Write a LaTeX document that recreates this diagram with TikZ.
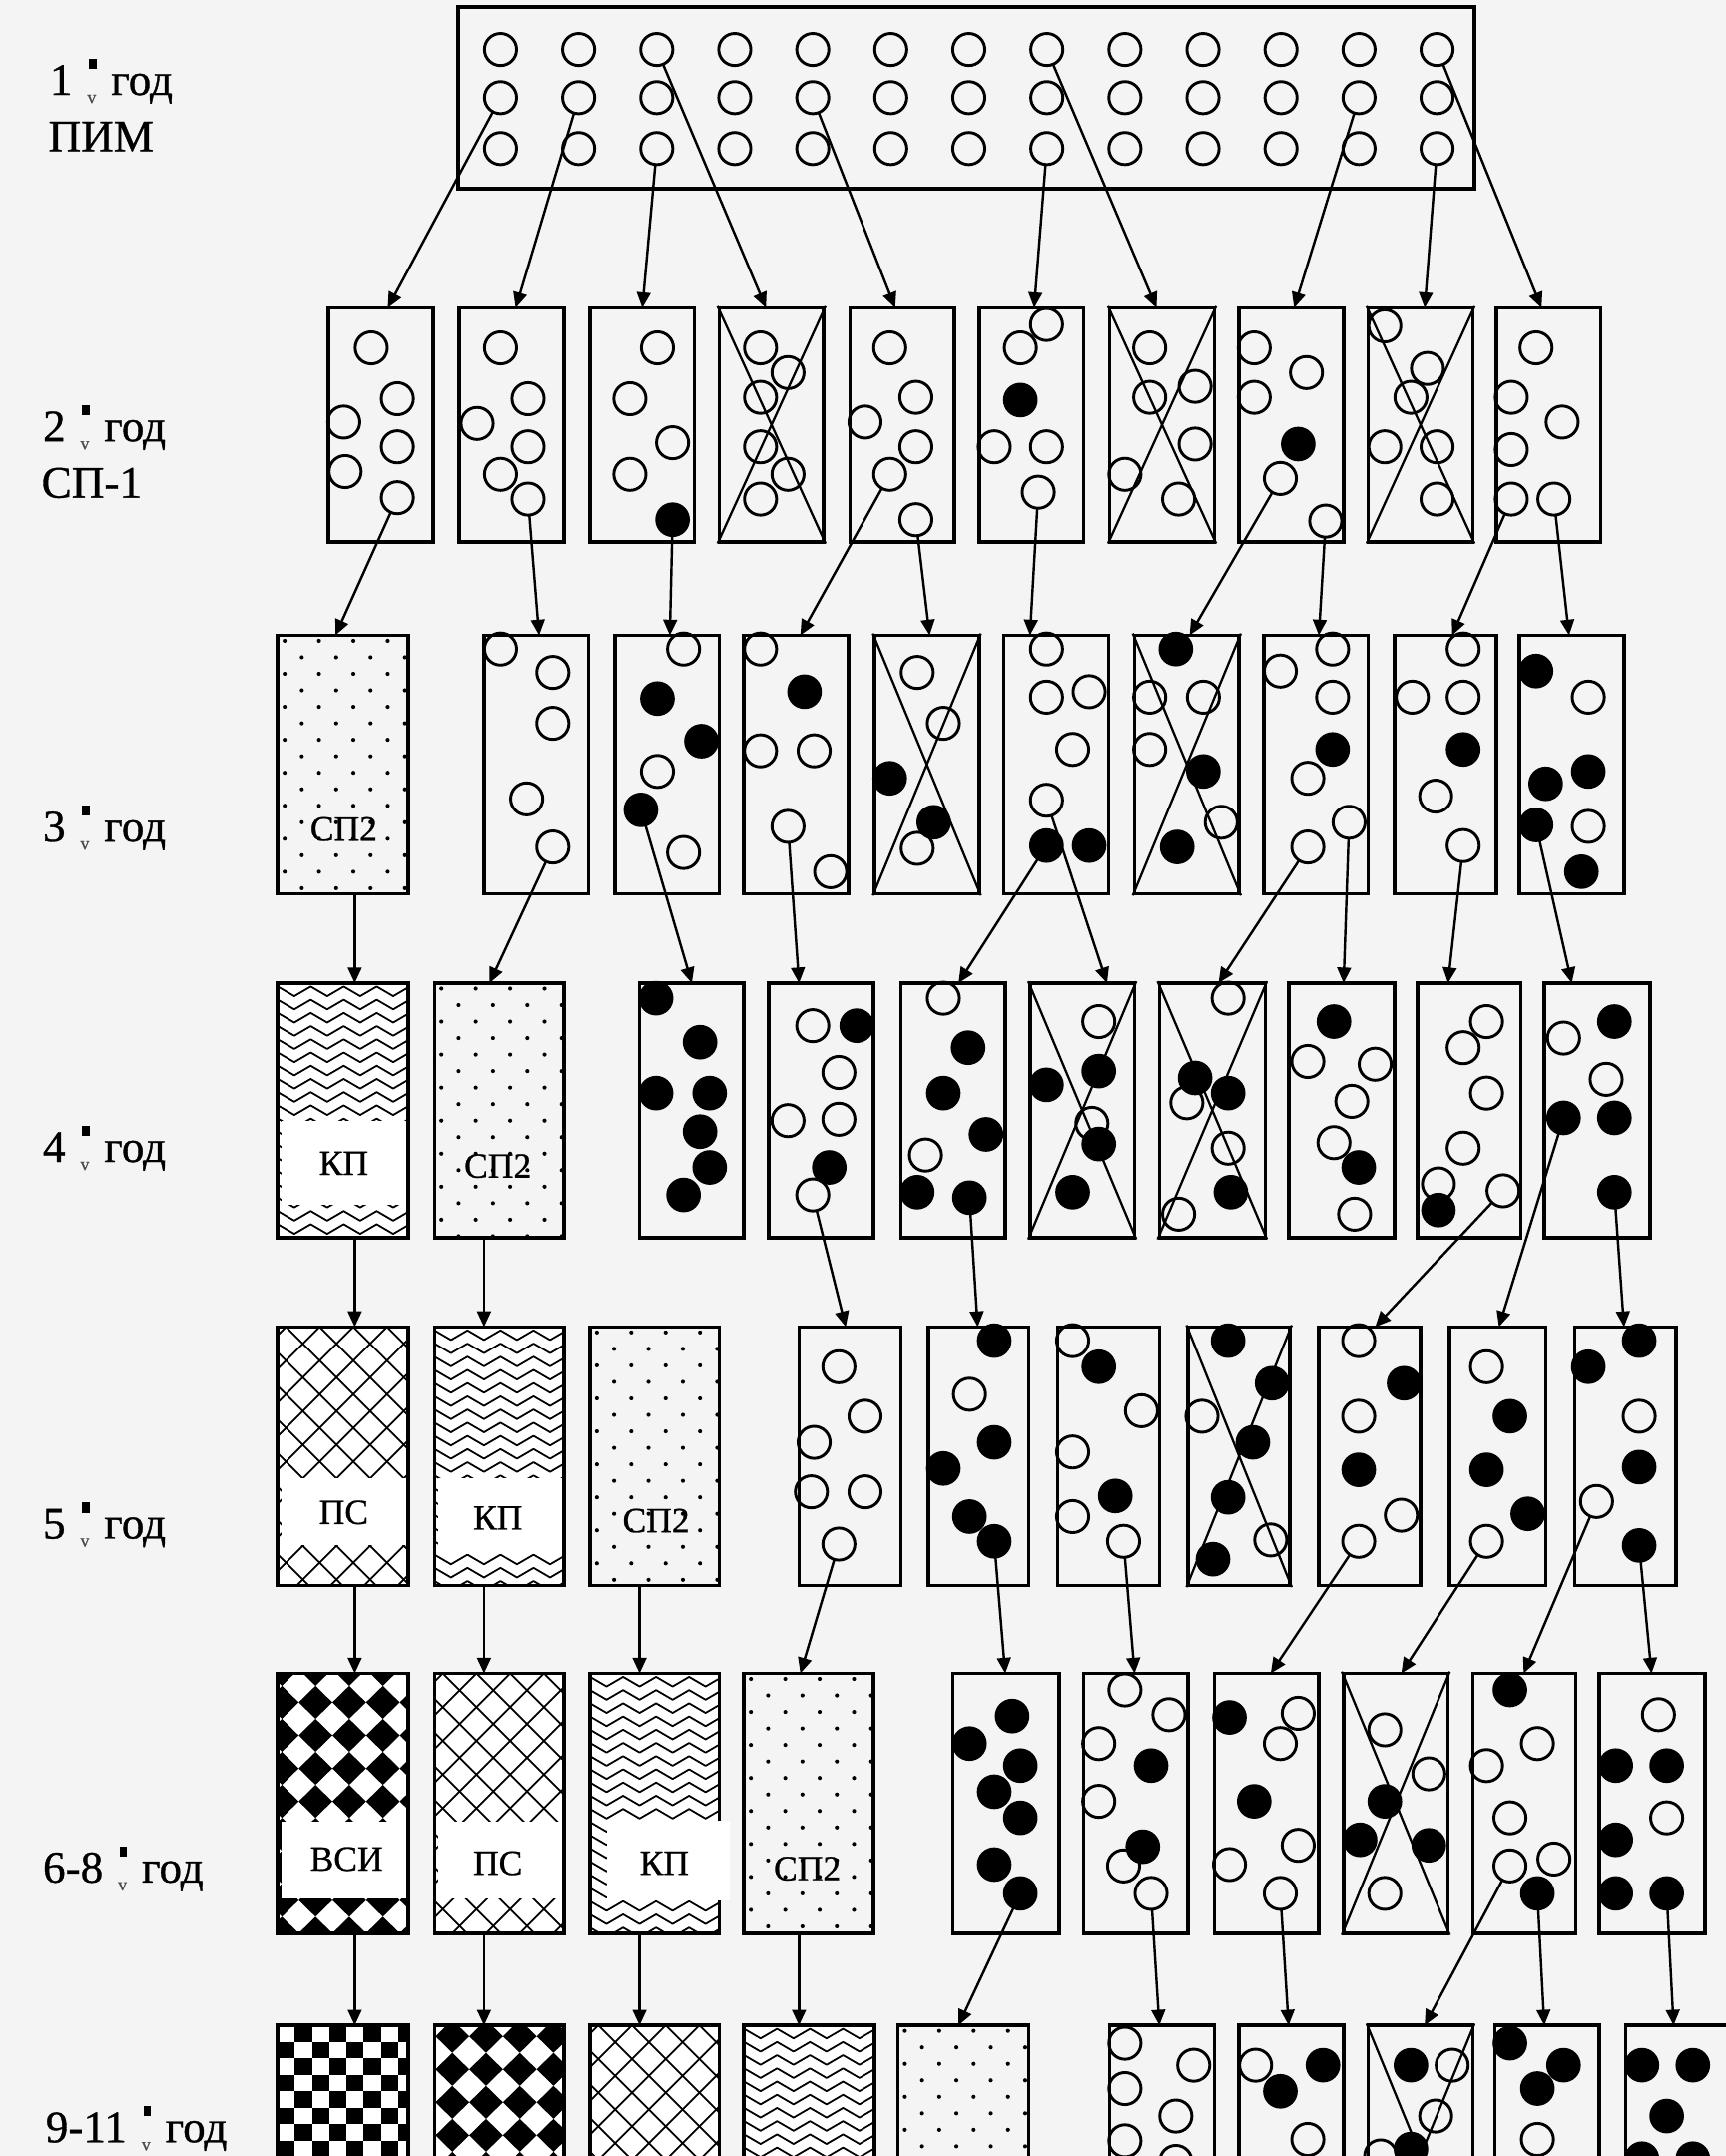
\documentclass[tikz,border=0pt]{standalone}
\usepackage{fontspec}
\setmainfont{Liberation Serif}
\usetikzlibrary{arrows.meta,fit}
\definecolor{bg}{RGB}{244,244,244}
\tikzset{
 oc/.style={circle,draw,line width=1.8pt,minimum size=0.7cm,inner sep=0pt,outer sep=0pt},
 fc/.style={circle,draw,fill=black,line width=1pt,minimum size=0.72cm,inner sep=0pt,outer sep=0pt},
 bxs/.style={draw,line width=2.2pt,inner sep=0pt},
 arr/.style={line width=1.5pt,-{Triangle[length=0.34cm,width=0.3cm]}},
 xl/.style={line width=1.4pt},
 pat/.style={line width=1.1pt},
 rowlab/.style={anchor=base west,inner sep=0pt,font=\fontsize{28}{30}\selectfont\addfontfeatures{FakeBold=0.8}},
 boxlab/.style={inner sep=0pt,font=\fontsize{22}{24}\selectfont\addfontfeatures{FakeBold=0.8}},
}
\newcommand\mk{\hbox to 24pt{\hss\rlap{\hspace{1.2pt}\raisebox{16pt}{\rule{4.5pt}{6.5pt}}}{\fontsize{11}{11}\selectfont\color{black!70}\raisebox{-5pt}{v}}\hss}}
\newcommand\Oc[3]{\node[oc] (#1) at (#2,#3) {};}
\newcommand\Fc[3]{\node[fc] (#1) at (#2,#3) {};}
\newcommand\Bx[5]{\node[bxs,fit={(#2,#3) (#4,#5)}] (#1) {};}
\newcommand\Xx[1]{\draw[xl] (#1.north west) -- (#1.south east) (#1.north east) -- (#1.south west);}
\newcommand\pdots[4]{\begin{scope}\clip (#1,#2) rectangle (#3,#4);
 \foreach \j in {0,...,16}{\foreach \i in {0,...,4}{
 \fill ({#1+5+12.5*mod(\j,2)+25*\i},{#2+4+12*\j}) circle (0.045cm);}}
 \end{scope}}
\newcommand\pwave[4]{\begin{scope}\clip (#1,#2) rectangle (#3,#4);
 \fill[white] (#1,#2) rectangle (#3,#4);
 \foreach \j in {0,...,20}{\draw[pat,line join=round] ({#1-6},{#2+6+9.6*\j}) \foreach \k in {0,...,5}{ -- ++(6,-3.5) -- ++(6,3.5) -- ++(6,3.5) -- ++(6,-3.5)};}
 \end{scope}}
\newcommand\phatch[4]{\begin{scope}\clip (#1,#2) rectangle (#3,#4);
 \fill[white] (#1,#2) rectangle (#3,#4);
 \foreach \k in {-9,...,13}{\draw[pat] ({#1+6+24.5*\k},#2) -- ++(220,220); \draw[pat] ({#1+6+24.5*\k},#2) -- ++(-220,220);}
 \end{scope}}
\newcommand\pdiam[6]{\begin{scope}\clip (#1,#2) rectangle (#3,#4);
 \fill[white] (#1,#2) rectangle (#3,#4);
 \foreach \j in {-1,...,8}{\foreach \i in {-1,...,5}{
 \fill ({#1+#5+24.5*\i},{#2+#6+24*\j}) -- ++(12.25,12) -- ++(-12.25,12) -- ++(-12.25,-12) -- cycle;}}
 \end{scope}}
\newcommand\pcheck[4]{\begin{scope}\clip (#1,#2) rectangle (#3,#4);
 \fill[white] (#1,#2) rectangle (#3,#4);
 \foreach \j in {0,...,15}{\foreach \i in {0,...,7}{
 \ifodd\numexpr\i+\j\relax \fill ({#1+12.5*\i},{#2+12*\j}) rectangle ++(12.5,12);\fi}}
 \end{scope}}
\begin{document}
\begin{tikzpicture}[x=0.03cm,y=-0.03cm]
\path[use as bounding box] (0,0) rectangle (1255,1568);
\clip (0,0) rectangle (1255,1568);
\fill[bg] (0,0) rectangle (1255,1568);
% ---------- patterns
\pdots{202}{462}{297}{650}
\pwave{202}{715}{297}{900}
\pdots{316}{715}{410}{900}
\phatch{202}{965}{297}{1153}
\pwave{316}{965}{410}{1153}
\pdots{429}{965}{523}{1153}
\pdiam{202}{1217}{297}{1406}{3}{9}
\phatch{316}{1217}{410}{1406}
\pwave{429}{1217}{523}{1406}
\pdots{541}{1217}{635}{1406}
\pcheck{202}{1473}{297}{1662}
\pdiam{316}{1473}{410}{1662}{13}{20}
\phatch{429}{1473}{523}{1662}
\pwave{541}{1473}{636}{1662}
\pdots{653}{1473}{748}{1662}
\fill[white] (205,815) rectangle (297,876);
\fill[white] (205,1075) rectangle (297,1124);
\fill[white] (319,1075) rectangle (410,1130);
\fill[white] (205,1325) rectangle (297,1381);
\fill[white] (319,1325) rectangle (410,1381);
% ---------- boxes
\Bx{B1}{333}{5}{1072}{137}
\Bx{B2a}{239}{224}{315}{394}\Bx{B2b}{334}{224}{410}{394}\Bx{B2c}{429}{224}{505}{394}
\Bx{B2d}{523}{224}{599}{394}\Bx{B2e}{618}{224}{694}{394}\Bx{B2f}{712}{224}{788}{394}
\Bx{B2g}{807}{224}{883}{394}\Bx{B2h}{901}{224}{977}{394}\Bx{B2i}{995}{224}{1071}{394}
\Bx{B2j}{1088}{224}{1164}{394}
\Bx{B3a}{202}{462}{297}{650}\Bx{B3b}{352}{462}{428}{650}\Bx{B3c}{447}{462}{523}{650}
\Bx{B3d}{541}{462}{617}{650}\Bx{B3e}{636}{462}{712}{650}\Bx{B3f}{730}{462}{806}{650}
\Bx{B3g}{825}{462}{901}{650}\Bx{B3h}{919}{462}{995}{650}\Bx{B3i}{1014}{462}{1088}{650}
\Bx{B3j}{1105}{462}{1181}{650}
\Bx{B4a}{202}{715}{297}{900}\Bx{B4b}{316}{715}{410}{900}\Bx{B4c}{465}{715}{541}{900}
\Bx{B4d}{559}{715}{635}{900}\Bx{B4e}{655}{715}{731}{900}\Bx{B4f}{749}{715}{825}{900}
\Bx{B4g}{843}{715}{920}{900}\Bx{B4h}{937}{715}{1014}{900}\Bx{B4i}{1031}{715}{1106}{900}
\Bx{B4j}{1123}{715}{1200}{900}
\Bx{B5a}{202}{965}{297}{1153}\Bx{B5b}{316}{965}{410}{1153}\Bx{B5c}{429}{965}{523}{1153}
\Bx{B5d}{581}{965}{655}{1153}\Bx{B5e}{675}{965}{748}{1153}\Bx{B5f}{769}{965}{843}{1153}
\Bx{B5g}{864}{965}{938}{1153}\Bx{B5h}{959}{965}{1033}{1153}\Bx{B5i}{1054}{965}{1124}{1153}
\Bx{B5j}{1145}{965}{1219}{1153}
\Bx{B6a}{202}{1217}{297}{1406}\Bx{B6b}{316}{1217}{410}{1406}\Bx{B6c}{429}{1217}{523}{1406}
\Bx{B6d}{541}{1217}{635}{1406}\Bx{B6e}{693}{1217}{770}{1406}\Bx{B6f}{788}{1217}{864}{1406}
\Bx{B6g}{883}{1217}{959}{1406}\Bx{B6h}{977}{1217}{1053}{1406}\Bx{B6i}{1071}{1217}{1146}{1406}
\Bx{B6j}{1163}{1217}{1240}{1406}
\Bx{B7a}{202}{1473}{297}{1662}\Bx{B7b}{316}{1473}{410}{1662}\Bx{B7c}{429}{1473}{523}{1662}
\Bx{B7d}{541}{1473}{636}{1662}\Bx{B7e}{653}{1473}{748}{1662}\Bx{B7f}{807}{1473}{883}{1662}
\Bx{B7g}{901}{1473}{977}{1662}\Bx{B7h}{995}{1473}{1071}{1662}\Bx{B7i}{1087}{1473}{1163}{1662}
\Bx{B7j}{1182}{1473}{1258}{1662}
\fill[white] (441,1324) rectangle (531,1382);
% ---------- crossed boxes
\Xx{B2d}\Xx{B2g}\Xx{B2i}\Xx{B3e}\Xx{B3g}\Xx{B4f}\Xx{B4g}\Xx{B5g}\Xx{B6h}\Xx{B7h}
% ---------- box labels
\node[boxlab] (T3a) at (250,603) {СП2};
\node[boxlab] (T4a) at (250,846) {КП};
\node[boxlab] (T4b) at (362,848) {СП2};
\node[boxlab] (T5a) at (250,1100) {ПС};
\node[boxlab] (T5b) at (362,1104) {КП};
\node[boxlab] (T5c) at (477,1106) {СП2};
\node[boxlab] (T6a) at (252,1352) {ВСИ};
\node[boxlab] (T6b) at (362,1355) {ПС};
\node[boxlab] (T6c) at (483,1355) {КП};
\node[boxlab] (T6d) at (587,1359) {СП2};
% ---------- row labels
\node[rowlab] (L1) at (36,69) {1\mk год};
\node[rowlab] (L1b) at (35,110) {ПИМ};
\node[rowlab] (L2) at (31,321) {2\mk год};
\node[rowlab] (L2b) at (30,362) {СП-1};
\node[rowlab] (L3) at (31,612) {3\mk год};
\node[rowlab] (L4) at (31,845) {4\mk год};
\node[rowlab] (L5) at (31,1119) {5\mk год};
\node[rowlab] (L6) at (31,1369) {6-8\mk год};
\node[rowlab] (L7) at (33,1558) {9-11\mk год};
% ---------- circles
\foreach \i in {1,...,13}{\foreach \j/\yy in {1/36,2/71,3/108}{\node[oc] (p\i r\j) at ({364+56.75*(\i-1)},\yy) {};}}
\Oc{c2a1}{270}{253}\Oc{c2a2}{289}{290}\Oc{c2a3}{250}{307}\Oc{c2a4}{289}{325}\Oc{c2a5}{251}{343}\Oc{c2a6}{289}{362}
\Oc{c2b1}{364}{253}\Oc{c2b2}{384}{290}\Oc{c2b3}{347}{308}\Oc{c2b4}{384}{325}\Oc{c2b5}{364}{345}\Oc{c2b6}{384}{363}
\Oc{c2c1}{478}{253}\Oc{c2c2}{458}{290}\Oc{c2c3}{489}{322}\Oc{c2c4}{458}{345}\Fc{c2c5}{489}{378}
\Oc{c2d1}{553}{253}\Oc{c2d2}{573}{271}\Oc{c2d3}{553}{289}\Oc{c2d4}{553}{325}\Oc{c2d5}{573}{345}\Oc{c2d6}{553}{363}
\Oc{c2e1}{647}{253}\Oc{c2e2}{666}{289}\Oc{c2e3}{629}{307}\Oc{c2e4}{666}{325}\Oc{c2e5}{647}{345}\Oc{c2e6}{666}{378}
\Oc{c2f1}{761}{236}\Oc{c2f2}{742}{253}\Fc{c2f3}{742}{291}\Oc{c2f4}{723}{325}\Oc{c2f5}{761}{325}\Oc{c2f6}{755}{358}
\Oc{c2g1}{836}{253}\Oc{c2g2}{869}{281}\Oc{c2g3}{836}{289}\Oc{c2g4}{869}{323}\Oc{c2g5}{818}{345}\Oc{c2g6}{857}{363}
\Oc{c2h1}{912}{253}\Oc{c2h2}{950}{271}\Oc{c2h3}{912}{289}\Fc{c2h4}{944}{323}\Oc{c2h5}{931}{348}\Oc{c2h6}{964}{379}
\Oc{c2i1}{1007}{237}\Oc{c2i2}{1038}{268}\Oc{c2i3}{1026}{289}\Oc{c2i4}{1007}{325}\Oc{c2i5}{1045}{325}\Oc{c2i6}{1045}{363}
\Oc{c2j1}{1117}{253}\Oc{c2j2}{1099}{289}\Oc{c2j3}{1136}{307}\Oc{c2j4}{1099}{327}\Oc{c2j5}{1099}{363}\Oc{c2j6}{1130}{363}
\Oc{c3b1}{364}{472}\Oc{c3b2}{402}{489}\Oc{c3b3}{402}{526}\Oc{c3b4}{383}{581}\Oc{c3b5}{402}{616}
\Oc{c3c1}{497}{472}\Fc{c3c2}{478}{508}\Fc{c3c3}{510}{539}\Oc{c3c4}{478}{561}\Fc{c3c5}{466}{589}\Oc{c3c6}{497}{620}
\Oc{c3d1}{553}{472}\Fc{c3d2}{585}{503}\Oc{c3d3}{553}{546}\Oc{c3d4}{592}{546}\Oc{c3d5}{573}{601}\Oc{c3d6}{604}{634}
\Oc{c3e1}{667}{489}\Oc{c3e2}{686}{526}\Fc{c3e3}{647}{566}\Fc{c3e4}{679}{598}\Oc{c3e5}{667}{617}
\Oc{c3f1}{761}{472}\Oc{c3f2}{761}{507}\Oc{c3f3}{792}{503}\Oc{c3f4}{780}{545}\Oc{c3f5}{761}{582}\Fc{c3f6}{761}{615}\Fc{c3f7}{792}{615}
\Fc{c3g1}{855}{472}\Oc{c3g2}{836}{507}\Oc{c3g3}{875}{507}\Oc{c3g4}{836}{545}\Fc{c3g5}{875}{561}\Oc{c3g6}{888}{598}\Fc{c3g7}{856}{616}
\Oc{c3h1}{931}{488}\Oc{c3h2}{969}{472}\Oc{c3h3}{969}{507}\Fc{c3h4}{969}{545}\Oc{c3h5}{951}{566}\Oc{c3h6}{981}{598}\Oc{c3h7}{951}{616}
\Oc{c3i1}{1064}{472}\Oc{c3i2}{1027}{507}\Oc{c3i3}{1064}{507}\Fc{c3i4}{1064}{545}\Oc{c3i5}{1044}{579}\Oc{c3i6}{1064}{615}
\Fc{c3j1}{1117}{488}\Oc{c3j2}{1155}{507}\Fc{c3j3}{1124}{570}\Fc{c3j4}{1155}{561}\Fc{c3j5}{1117}{600}\Oc{c3j6}{1155}{601}\Fc{c3j7}{1150}{634}
\Fc{c4c1}{477}{726}\Fc{c4c2}{509}{758}\Fc{c4c3}{477}{795}\Fc{c4c4}{516}{795}\Fc{c4c5}{509}{823}\Fc{c4c6}{516}{849}\Fc{c4c7}{497}{869}
\Oc{c4d1}{591}{746}\Fc{c4d2}{623}{746}\Oc{c4d3}{610}{780}\Oc{c4d4}{573}{815}\Oc{c4d5}{610}{814}\Fc{c4d6}{603}{849}\Oc{c4d7}{591}{869}
\Oc{c4e1}{686}{726}\Fc{c4e2}{704}{762}\Fc{c4e3}{686}{795}\Fc{c4e4}{717}{825}\Oc{c4e5}{673}{840}\Fc{c4e6}{667}{867}\Fc{c4e7}{705}{871}
\Oc{c4f1}{799}{743}\Fc{c4f2}{799}{779}\Fc{c4f3}{761}{789}\Oc{c4f4}{794}{817}\Fc{c4f5}{799}{832}\Fc{c4f6}{780}{867}
\Oc{c4g1}{893}{726}\Fc{c4g2}{869}{784}\Fc{c4g3}{893}{795}\Oc{c4g4}{863}{802}\Oc{c4g5}{893}{835}\Fc{c4g6}{895}{867}\Oc{c4g7}{857}{883}
\Fc{c4h1}{970}{743}\Oc{c4h2}{951}{772}\Oc{c4h3}{1000}{774}\Oc{c4h4}{983}{801}\Oc{c4h5}{970}{831}\Fc{c4h6}{988}{849}\Oc{c4h7}{985}{883}
\Oc{c4i1}{1081}{743}\Oc{c4i2}{1064}{762}\Oc{c4i3}{1081}{795}\Oc{c4i4}{1064}{835}\Oc{c4i5}{1046}{861}\Fc{c4i6}{1046}{880}\Oc{c4i7}{1093}{866}
\Oc{c4j1}{1137}{755}\Fc{c4j2}{1174}{743}\Oc{c4j3}{1168}{785}\Fc{c4j4}{1137}{813}\Fc{c4j5}{1174}{813}\Fc{c4j6}{1174}{867}
\Oc{c5d1}{610}{994}\Oc{c5d2}{629}{1030}\Oc{c5d3}{592}{1049}\Oc{c5d4}{590}{1085}\Oc{c5d5}{629}{1085}\Oc{c5d6}{610}{1123}
\Fc{c5e1}{723}{975}\Oc{c5e2}{705}{1014}\Fc{c5e3}{723}{1049}\Fc{c5e4}{686}{1068}\Fc{c5e5}{705}{1103}\Fc{c5e6}{723}{1121}
\Oc{c5f1}{780}{975}\Fc{c5f2}{799}{994}\Oc{c5f3}{830}{1026}\Oc{c5f4}{780}{1056}\Fc{c5f5}{811}{1088}\Oc{c5f6}{780}{1103}\Oc{c5f7}{817}{1121}
\Fc{c5g1}{893}{975}\Fc{c5g2}{925}{1006}\Oc{c5g3}{874}{1030}\Fc{c5g4}{911}{1049}\Fc{c5g5}{893}{1089}\Oc{c5g6}{924}{1120}\Fc{c5g7}{882}{1134}
\Oc{c5h1}{988}{975}\Fc{c5h2}{1021}{1006}\Oc{c5h3}{988}{1030}\Fc{c5h4}{988}{1069}\Oc{c5h5}{1019}{1102}\Oc{c5h6}{988}{1121}
\Oc{c5i1}{1081}{994}\Fc{c5i2}{1098}{1030}\Fc{c5i3}{1081}{1069}\Fc{c5i4}{1111}{1101}\Oc{c5i5}{1081}{1121}
\Fc{c5j1}{1192}{975}\Fc{c5j2}{1155}{994}\Oc{c5j3}{1192}{1030}\Fc{c5j4}{1192}{1067}\Oc{c5j5}{1161}{1092}\Fc{c5j6}{1192}{1124}
\Fc{c6e1}{736}{1248}\Fc{c6e2}{705}{1268}\Fc{c6e3}{742}{1284}\Fc{c6e4}{723}{1303}\Fc{c6e5}{742}{1322}\Fc{c6e6}{723}{1356}\Fc{c6e7}{742}{1377}
\Oc{c6f1}{818}{1229}\Oc{c6f2}{850}{1247}\Oc{c6f3}{799}{1268}\Fc{c6f4}{837}{1284}\Oc{c6f5}{799}{1310}\Fc{c6f6}{831}{1343}\Oc{c6f7}{817}{1357}\Oc{c6f8}{837}{1377}
\Fc{c6g1}{894}{1249}\Oc{c6g2}{944}{1246}\Oc{c6g3}{931}{1268}\Fc{c6g4}{912}{1310}\Oc{c6g5}{944}{1342}\Oc{c6g6}{894}{1356}\Oc{c6g7}{931}{1377}
\Oc{c6h1}{1007}{1258}\Oc{c6h2}{1039}{1290}\Fc{c6h3}{1007}{1310}\Fc{c6h4}{989}{1338}\Fc{c6h5}{1039}{1342}\Oc{c6h6}{1007}{1377}
\Fc{c6i1}{1098}{1229}\Oc{c6i2}{1118}{1268}\Oc{c6i3}{1081}{1284}\Oc{c6i4}{1098}{1322}\Oc{c6i5}{1098}{1357}\Oc{c6i6}{1130}{1352}\Fc{c6i7}{1118}{1377}
\Oc{c6j1}{1206}{1247}\Fc{c6j2}{1175}{1284}\Fc{c6j3}{1212}{1284}\Oc{c6j4}{1212}{1322}\Fc{c6j5}{1175}{1338}\Fc{c6j6}{1175}{1377}\Fc{c6j7}{1212}{1377}
\Oc{c7f1}{818}{1486}\Oc{c7f2}{868}{1502}\Oc{c7f3}{818}{1519}\Oc{c7f4}{855}{1539}\Oc{c7f5}{818}{1557}\Oc{c7f6}{855}{1572}
\Oc{c7g1}{913}{1502}\Fc{c7g2}{962}{1502}\Fc{c7g3}{931}{1521}\Oc{c7g4}{951}{1556}
\Fc{c7h1}{1026}{1502}\Oc{c7h2}{1056}{1502}\Oc{c7h3}{1044}{1539}\Fc{c7h4}{1026}{1563}\Oc{c7h5}{1004}{1568}
\Fc{c7i1}{1098}{1486}\Fc{c7i2}{1137}{1502}\Fc{c7i3}{1118}{1519}\Oc{c7i4}{1118}{1556}
\Fc{c7j1}{1194}{1502}\Fc{c7j2}{1231}{1502}\Fc{c7j3}{1212}{1539}\Fc{c7j4}{1194}{1570}\Fc{c7j5}{1231}{1570}
% ---------- arrow tips
\coordinate (t2a) at (282,224);\coordinate (t2b) at (375,224);\coordinate (t2c) at (467,224);
\coordinate (t2d) at (557,224);\coordinate (t2e) at (651,224);\coordinate (t2f) at (752,224);
\coordinate (t2g) at (841,224);\coordinate (t2h) at (941,224);\coordinate (t2i) at (1036,224);
\coordinate (t2j) at (1121,224);
\coordinate (t3a) at (244,462);\coordinate (t3b) at (392,462);\coordinate (t3c) at (487,462);
\coordinate (t3d) at (582,462);\coordinate (t3e) at (676,462);\coordinate (t3f) at (749,462);
\coordinate (t3g) at (865,462);\coordinate (t3h) at (959,462);\coordinate (t3i) at (1056,462);
\coordinate (t3j) at (1141,462);
\coordinate (t4a) at (258,715);\coordinate (t4b) at (356,715);\coordinate (t4c) at (503,715);
\coordinate (t4d) at (581,715);\coordinate (t4e) at (697,715);\coordinate (t4f) at (805,715);
\coordinate (t4g) at (886,715);\coordinate (t4h) at (977,715);\coordinate (t4i) at (1053,715);
\coordinate (t4j) at (1143,715);
\coordinate (t5a) at (258,965);\coordinate (t5b) at (352,965);\coordinate (t5d) at (615,965);
\coordinate (t5e) at (711,965);\coordinate (t5h) at (1000,965);\coordinate (t5i) at (1090,965);
\coordinate (t5j) at (1181,965);
\coordinate (t6a) at (258,1217);\coordinate (t6b) at (352,1217);\coordinate (t6c) at (465,1217);
\coordinate (t6d) at (582,1217);\coordinate (t6e) at (731,1217);\coordinate (t6f) at (825,1217);
\coordinate (t6g) at (924,1217);\coordinate (t6h) at (1019,1217);\coordinate (t6i) at (1108,1217);
\coordinate (t6j) at (1201,1217);
\coordinate (t7a) at (258,1473);\coordinate (t7b) at (352,1473);\coordinate (t7c) at (465,1473);
\coordinate (t7d) at (581,1473);\coordinate (t7e) at (697,1473);\coordinate (t7f) at (843,1473);
\coordinate (t7g) at (937,1473);\coordinate (t7h) at (1036,1473);\coordinate (t7i) at (1123,1473);
\coordinate (t7j) at (1217,1473);
% ---------- arrows
\draw[arr] (p1r2) -- (t2a); \draw[arr] (p2r2) -- (t2b); \draw[arr] (p3r3) -- (t2c);
\draw[arr] (p3r1) -- (t2d); \draw[arr] (p5r2) -- (t2e); \draw[arr] (p8r3) -- (t2f);
\draw[arr] (p8r1) -- (t2g); \draw[arr] (p12r2) -- (t2h); \draw[arr] (p13r3) -- (t2i);
\draw[arr] (p13r1) -- (t2j);
\draw[arr] (c2a6) -- (t3a); \draw[arr] (c2b6) -- (t3b); \draw[arr] (c2c5) -- (t3c);
\draw[arr] (c2e5) -- (t3d); \draw[arr] (c2e6) -- (t3e); \draw[arr] (c2f6) -- (t3f);
\draw[arr] (c2h5) -- (t3g); \draw[arr] (c2h6) -- (t3h); \draw[arr] (c2j5) -- (t3i);
\draw[arr] (c2j6) -- (t3j);
\draw[arr] (B3a.south -| t4a) -- (t4a); \draw[arr] (c3b5) -- (t4b); \draw[arr] (c3c5) -- (t4c);
\draw[arr] (c3d5) -- (t4d); \draw[arr] (c3f6) -- (t4e); \draw[arr] (c3f5) -- (t4f);
\draw[arr] (c3h7) -- (t4g); \draw[arr] (c3h6) -- (t4h); \draw[arr] (c3i6) -- (t4i);
\draw[arr] (c3j5) -- (t4j);
\draw[arr] (B4a.south -| t5a) -- (t5a); \draw[arr] (B4b.south -| t5b) -- (t5b);
\draw[arr] (c4d7) -- (t5d); \draw[arr] (c4e7) -- (t5e); \draw[arr] (c4i7) -- (t5h);
\draw[arr] (c4j4) -- (t5i); \draw[arr] (c4j6) -- (t5j);
\draw[arr] (B5a.south -| t6a) -- (t6a); \draw[arr] (B5b.south -| t6b) -- (t6b);
\draw[arr] (B5c.south -| t6c) -- (t6c); \draw[arr] (c5d6) -- (t6d); \draw[arr] (c5e6) -- (t6e);
\draw[arr] (c5f7) -- (t6f); \draw[arr] (c5h6) -- (t6g); \draw[arr] (c5i5) -- (t6h);
\draw[arr] (c5j5) -- (t6i); \draw[arr] (c5j6) -- (t6j);
\draw[arr] (B6a.south -| t7a) -- (t7a); \draw[arr] (B6b.south -| t7b) -- (t7b);
\draw[arr] (B6c.south -| t7c) -- (t7c); \draw[arr] (B6d.south -| t7d) -- (t7d);
\draw[arr] (c6e7) -- (t7e); \draw[arr] (c6f8) -- (t7f); \draw[arr] (c6g7) -- (t7g);
\draw[arr] (c6i5) -- (t7h); \draw[arr] (c6i7) -- (t7i); \draw[arr] (c6j7) -- (t7j);
\end{tikzpicture}
\end{document}
